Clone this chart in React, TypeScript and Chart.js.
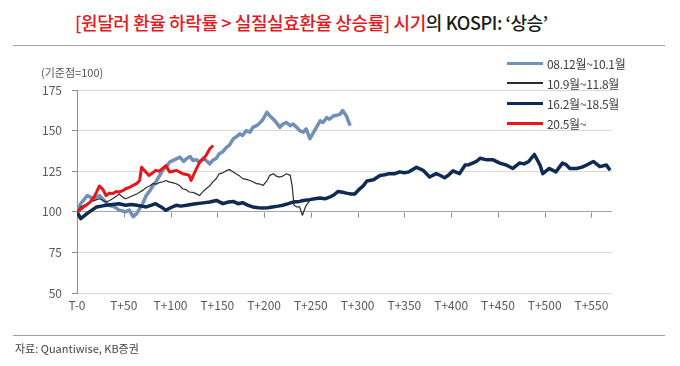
import React, { useEffect, useRef } from "react";
import { Chart, registerables } from "chart.js";

Chart.register(...registerables);

const seriesNames = ["08.12월~10.1월", "10.9월~11.8월", "16.2월~18.5월", "20.5월~"];
const seriesColors = ["#7190b6", "#2b2b2b", "#0f2b52", "#e8161c"];

const s1Days = [0, 4, 11, 18, 24, 29, 34, 40, 45, 52, 56, 60, 64, 67, 71, 74, 78, 81, 85, 88, 92, 96, 99, 104, 110, 114, 117, 121, 124, 128, 131, 135, 138, 142, 145, 149, 152, 156, 160, 163, 167, 170, 174, 177, 181, 185, 188, 192, 196, 199, 203, 206, 210, 213, 217, 220, 224, 228, 231, 235, 238, 242, 245, 249, 252, 256, 260, 263, 267, 270, 274, 278, 281, 284, 288, 292];
const s1Vals = [100, 105, 110, 108, 110, 107, 104, 103, 101, 100, 101, 97, 99, 102, 106, 110, 113, 116, 119, 122, 126, 128, 130.6, 132, 133.7, 131, 132.7, 134, 131.6, 132, 130.6, 133, 131.6, 129.5, 131.6, 133, 135.7, 137, 139.8, 141, 144.9, 146, 148, 147, 150, 149, 152, 153, 155, 157, 161.3, 159.2, 157, 155, 152, 154, 155, 153, 154, 152, 150, 149, 151, 145, 148, 152, 156, 155, 158, 157, 159, 159.5, 160, 162.3, 159, 153];

const s2Days = [0, 4, 9, 14, 19, 24, 28, 31, 35, 38, 42, 45, 49, 52, 56, 60, 64, 67, 71, 74, 78, 81, 85, 88, 92, 95, 99, 102, 106, 110, 113, 117, 120, 124, 127, 131, 134, 138, 142, 145, 149, 152, 156, 160, 163, 167, 170, 174, 177, 181, 185, 188, 192, 196, 199, 203, 206, 210, 213, 217, 220, 224, 228, 230, 232, 235, 238, 241, 243, 245, 249];
const s2Vals = [100, 103, 104.5, 106, 107, 108, 107, 106, 107, 108, 109.5, 111, 109, 108, 109, 110, 111, 112, 113.5, 115, 116, 117.3, 117, 118, 118.5, 119.3, 118.3, 118, 117.3, 116, 114.2, 113.5, 112.2, 112, 111.2, 110, 112, 114.2, 116, 118.3, 120.5, 123.4, 124, 125.5, 126, 124.5, 123.4, 122, 120.4, 120, 119.3, 118.5, 117.3, 117, 116.3, 119, 122.4, 123.4, 122, 121.4, 122, 123.4, 122.4, 116, 104, 103, 103, 97.9, 101, 104, 107];

const s3Days = [0, 4, 11, 16, 21, 26, 31, 38, 45, 52, 58, 64, 69, 74, 79, 84, 90, 95, 100, 106, 111, 117, 122, 127, 135, 142, 149, 156, 162, 167, 172, 177, 183, 188, 194, 199, 204, 209, 215, 220, 226, 231, 238, 242, 249, 254, 260, 265, 270, 275, 279, 284, 288, 293, 297, 302, 306, 310, 317, 324, 329, 334, 340, 345, 350, 355, 363, 370, 377, 384, 388, 393, 397, 402, 409, 415, 419, 423, 427, 431, 438, 445, 452, 459, 466, 473, 478, 483, 489, 495, 498, 505, 512, 519, 523, 527, 534, 540, 545, 552, 559, 566, 570];
const s3Vals = [100, 95.8, 99, 101, 103, 103.5, 104, 104.5, 105, 104, 104.5, 104, 103.5, 103, 104, 105, 103, 100.9, 102.5, 104, 103.5, 104, 104.5, 105, 105.5, 106, 107, 105, 106, 106.4, 105, 105.6, 104, 103, 102.5, 102.3, 102.5, 103, 103.5, 104, 105, 106, 106.4, 107, 107.5, 108, 108.5, 108, 109, 110.5, 112.5, 112, 111.5, 111, 111, 114, 116, 119, 119.7, 122.4, 122.8, 123.5, 123.5, 124.6, 124, 124.6, 127.4, 125.6, 121.4, 123.5, 122.5, 121, 122.5, 125.2, 123.5, 128.8, 129, 130, 131, 133, 132, 132, 130, 128.8, 126.7, 130, 129.5, 131, 135.3, 128.8, 123.5, 126.7, 124.6, 130, 129, 126.7, 126.7, 127.5, 128.8, 131, 127.8, 128.8, 125.6];

const s4Days = [0, 4, 7, 11, 14, 18, 21, 24, 28, 31, 35, 38, 42, 45, 49, 52, 56, 60, 64, 67, 69, 72, 77, 81, 84, 88, 91, 95, 99, 103, 106, 110, 113, 117, 120, 122, 126, 129, 131, 135, 138, 142, 145.6];
const s4Vals = [100, 101.5, 103, 104.5, 106, 109, 112.2, 115.9, 113.5, 110, 111.5, 111.2, 112.5, 112.2, 113, 114.2, 115, 116.3, 117.5, 119.3, 127.5, 125.5, 122.4, 124, 125.5, 125, 126.5, 128.5, 124.5, 125, 125.5, 124.5, 123.4, 123, 122.4, 119.3, 124.5, 128, 130.6, 132.5, 134.7, 138.8, 140.8];

const yTicks = [50, 75, 100, 125, 150, 175];
const xTickStep = 50;
const xMax = 572;

const allDays = [s1Days, s2Days, s3Days, s4Days];
const allVals = [s1Vals, s2Vals, s3Vals, s4Vals];
const lineWidths = [3.5, 1.2, 3.5, 3];
const drawOrder = [4, 2, 3, 1];

const FONT = "'Noto Sans CJK KR', 'Noto Sans', sans-serif";

const baselineTicks = {
  id: "baselineTicks",
  afterDatasetsDraw(chart: any) {
    const { ctx, scales } = chart;
    const x = scales.x;
    const y = scales.y;
    const py = Math.round(y.getPixelForValue(100)) + 0.5;
    ctx.save();
    ctx.strokeStyle = "#8c8c8c";
    ctx.lineWidth = 1;
    ctx.beginPath();
    for (let v = xTickStep; v <= xMax; v += xTickStep) {
      const px = Math.round(x.getPixelForValue(v)) + 0.5;
      ctx.moveTo(px, py);
      ctx.lineTo(px, py + 5);
    }
    ctx.stroke();
    ctx.restore();
  },
};

function ChartCanvas() {
  const ref = useRef<HTMLCanvasElement | null>(null);
  useEffect(() => {
    if (!ref.current) return;
    const datasets = allDays.map((days, i) => ({
      label: seriesNames[i],
      data: days.map((d, j) => ({ x: d, y: allVals[i][j] })),
      borderColor: seriesColors[i],
      backgroundColor: seriesColors[i],
      borderWidth: lineWidths[i],
      pointRadius: 0,
      tension: 0,
      order: drawOrder[i],
      borderJoinStyle: "round" as const,
    }));
    const chart = new Chart(ref.current, {
      type: "line",
      data: { datasets },
      plugins: [baselineTicks],
      options: {
        animation: false,
        responsive: false,
        maintainAspectRatio: false,
        layout: { padding: { left: 0, right: 68, top: 90, bottom: 43 } },
        plugins: { legend: { display: false }, tooltip: { enabled: false }, title: { display: false } },
        scales: {
          x: {
            type: "linear",
            min: 0,
            max: xMax,
            afterFit: (s: any) => { s.height = 30; },
            afterBuildTicks: (s: any) => {
              const t = [];
              for (let v = 0; v <= xMax; v += xTickStep) t.push({ value: v });
              s.ticks = t;
            },
            grid: { display: false, drawTicks: false },
            border: { display: false },
            ticks: {
              padding: 5,
              autoSkip: false,
              maxRotation: 0,
              color: "#595959",
              font: { family: FONT, size: 12 },
              callback: (v: any) => (v === 0 ? "T-0" : "T+" + v),
            },
          },
          y: {
            min: 50,
            max: 175,
            afterFit: (s: any) => { s.width = 77; },
            afterBuildTicks: (s: any) => { s.ticks = yTicks.map((v) => ({ value: v })); },
            grid: {
              color: (c: any) => (c.tick && c.tick.value === 100 ? "#a6a6a6" : "#d9d9d9"),
              tickColor: "#8c8c8c",
              tickLength: 5,
              lineWidth: 1,
            },
            border: { display: true, color: "#8c8c8c", width: 1 },
            ticks: {
              padding: 10,
              color: "#595959",
              font: { family: FONT, size: 12 },
            },
          },
        },
      },
    });
    return () => chart.destroy();
  }, []);
  return <canvas ref={ref} width={680} height={366} style={{ position: "absolute", left: 0, top: 0, width: 680, height: 366 }} />;
}

export default function App() {
  return (
    <div style={{ position: "fixed", left: 0, top: 0, width: 680, height: 366, background: "#fff", fontFamily: FONT, overflow: "hidden" }}>
      <div style={{ position: "absolute", left: 75, top: 8, fontSize: 18, fontWeight: 500, lineHeight: "28px", whiteSpace: "nowrap", letterSpacing: "-0.4px" }}>
        <span style={{ color: "#e5171f" }}>[원달러 환율 하락률 &gt; 실질실효환율 상승률] 시기</span>
        <span style={{ color: "#1a1a1a" }}>의 KOSPI: ‘상승’</span>
      </div>
      <div style={{ position: "absolute", left: 13, top: 45, width: 652, height: 1, background: "#a0a0a0" }} />
      <ChartCanvas />
      <div style={{ position: "absolute", left: 41, top: 64, fontSize: 11, lineHeight: "16px", color: "#555", whiteSpace: "nowrap" }}>(기준점=100)</div>
      <div style={{ position: "absolute", left: 507, top: 53 }}>
        {seriesNames.map((n, i) => (
          <div key={n} style={{ display: "flex", alignItems: "center", height: 20 }}>
            <div style={{ width: 36, height: i === 1 ? 2 : 3, background: seriesColors[i], marginRight: 4 }} />
            <span style={{ fontSize: 12, color: "#404040", whiteSpace: "nowrap", letterSpacing: "-0.3px" }}>{n}</span>
          </div>
        ))}
      </div>
      <div style={{ position: "absolute", left: 13, top: 335, width: 652, height: 1, background: "#a0a0a0" }} />
      <div style={{ position: "absolute", left: 15, top: 340, fontSize: 11, lineHeight: "16px", color: "#444", whiteSpace: "nowrap" }}>자료: Quantiwise, KB증권</div>
    </div>
  );
}
